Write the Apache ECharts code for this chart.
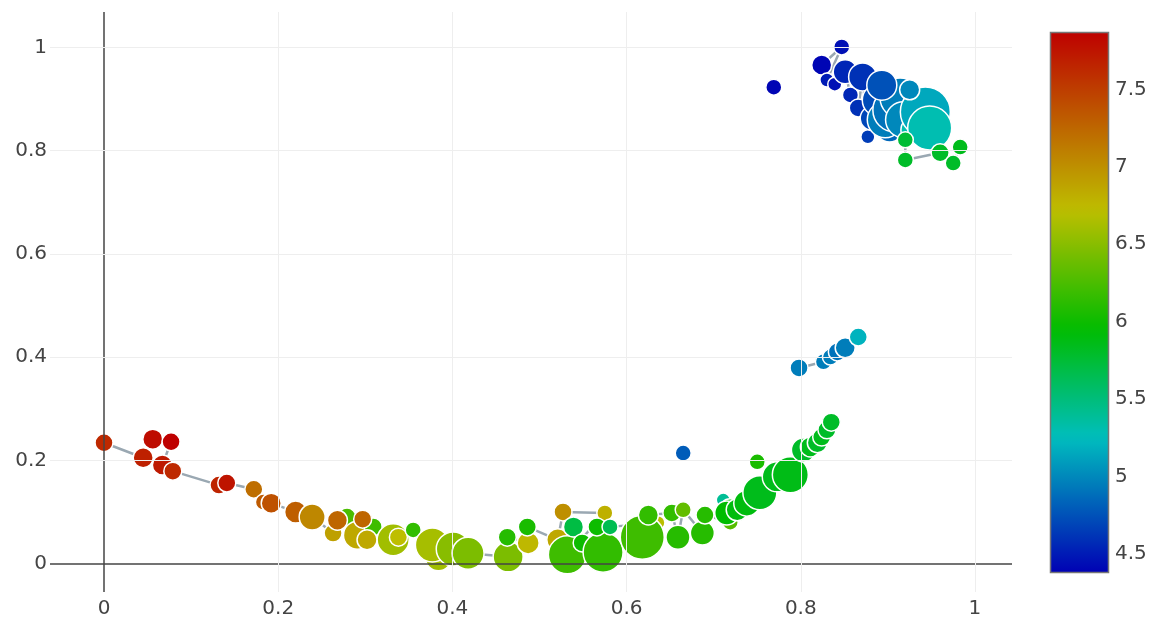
<!DOCTYPE html>
<html>
<head>
<meta charset="utf-8">
<script src="https://cdn.jsdelivr.net/npm/echarts@6/dist/echarts.min.js"></script>
<style>html,body{margin:0;padding:0;background:#fff;}#chart{width:1154px;height:620px;}</style>
</head>
<body>
<div id="chart"></div>
<script>
// ---- data ----
const X = [0.000,0.045,0.056,0.077,0.067,0.079,0.132,0.141,0.172,0.183,0.192,0.220,0.239,0.263,0.279,0.268,0.291,0.309,0.297,0.302,
0.332,0.338,0.355,0.384,0.377,0.401,0.418,0.464,0.463,0.487,0.486,0.521,0.527,0.575,0.532,0.539,0.549,0.573,0.566,0.581,
0.636,0.618,0.625,0.652,0.659,0.665,0.687,0.690,0.719,0.711,0.719,0.715,0.727,0.738,0.753,0.773,0.788,0.803,0.811,0.819,
0.824,0.830,0.835,
0.750,0.665,
0.798,0.826,0.834,0.842,0.851,0.866,
0.769,
0.824,0.847,0.830,0.839,0.851,0.857,0.866,0.871,0.877,0.882,0.889,0.902,0.897,0.908,0.914,0.918,0.931,0.943,0.948,0.893,
0.925,0.920,0.920,0.960,0.975,0.983];
const Y = [0.234,0.205,0.241,0.236,0.191,0.179,0.152,0.156,0.144,0.119,0.117,0.100,0.090,0.059,0.090,0.084,0.055,0.071,0.086,0.046,
0.046,0.051,0.065,0.011,0.036,0.028,0.020,0.013,0.051,0.040,0.071,0.046,0.100,0.098,0.017,0.071,0.040,0.022,0.071,0.071,
0.079,0.051,0.094,0.098,0.051,0.104,0.059,0.094,0.080,0.123,0.104,0.098,0.104,0.117,0.137,0.168,0.172,0.220,0.226,0.234,
0.245,0.259,0.274,
0.197,0.214,
0.379,0.391,0.400,0.410,0.418,0.439,
0.923,
0.966,1.001,0.937,0.929,0.953,0.908,0.883,0.943,0.827,0.863,0.898,0.844,0.860,0.879,0.902,0.860,0.840,0.875,0.844,0.927,
0.918,0.821,0.782,0.796,0.776,0.807];
const V = [7.62,7.68,7.80,7.87,7.72,7.62,7.65,7.75,7.20,7.32,7.38,7.30,7.05,6.90,6.25,7.25,6.85,6.20,7.25,6.85,
6.60,6.72,6.15,6.60,6.62,6.50,6.45,6.45,6.10,6.75,6.05,6.85,7.00,6.80,6.20,5.70,6.00,6.15,6.00,5.65,
6.70,6.20,6.15,6.15,6.10,6.35,6.10,6.10,6.30,5.40,5.95,5.95,5.90,5.90,5.85,5.85,5.87,5.80,5.85,5.80,
5.85,5.80,5.80,
6.05,4.80,
4.95,4.95,4.95,4.90,4.95,5.20,
4.40,
4.40,4.45,4.50,4.45,4.55,4.55,4.60,4.60,4.65,4.70,4.72,4.85,4.95,4.90,4.95,5.00,5.30,5.15,5.30,4.75,
5.00,5.75,5.80,5.80,5.80,5.85];
const S = [18,20,20,18,20,18,18,18,18,16,20,22,26,18,18,20,28,18,18,20,
32,18,16,26,34,34,32,30,18,22,18,22,18,16,38,20,18,40,18,16,
14,44,20,18,24,16,24,18,16,14,22,24,22,26,34,30,36,24,20,20,
18,18,18,
16,16,
18,16,16,18,20,18,
16,
20,16,14,14,24,16,18,28,14,24,32,28,36,44,40,36,28,50,44,30,
20,16,16,18,16,16];
// connected runs of points (start index, end index)
const RUNS = [[0,62],[65,70],[72,97]];
const X_TICKS = [0,0.2,0.4,0.6,0.8,1];
const Y_TICKS = [0,0.2,0.4,0.6,0.8,1];
const CB_TICKS = [4.5,5,5.5,6,6.5,7,7.5];
const CMIN = 4.377, CMAX = 7.87;

// ---- colour scale ----
const STOPS = [[0,[0,0,180]],[0.25,[0,190,190]],[0.45,[0,188,0]],[0.67,[190,190,0]],[1,[190,0,0]]];
function cs(t){
  for(let i=1;i<STOPS.length;i++){
    if(t<=STOPS[i][0]){
      const a=STOPS[i-1],b=STOPS[i],f=(t-a[0])/(b[0]-a[0]);
      const c=a[1].map((v,k)=>Math.round(v+(b[1][k]-v)*f));
      return 'rgb('+c.join(',')+')';
    }
  }
  return 'rgb('+STOPS[STOPS.length-1][1].join(',')+')';
}
const colorList=[]; for(let i=0;i<=100;i++) colorList.push(cs(i/100));
const gradStops=[]; for(let i=0;i<=50;i++){ gradStops.push({offset:i/50, color:cs(1-i/50)}); }

const pts = X.map((x,i)=>[x,Y[i],V[i],S[i]]);
const FONT = 'DejaVu Sans';
const series = [];
RUNS.forEach(r=>{
  series.push({type:'line', xAxisIndex:0, yAxisIndex:0, data: pts.slice(r[0],r[1]+1).map(p=>[p[0],p[1]]),
    symbol:'none', silent:true, z:1, lineStyle:{color:'#9aa8b2', width:2.5}, animation:false});
});
series.push({type:'scatter', xAxisIndex:0, yAxisIndex:0, data: pts, z:3, animation:false,
  symbolSize: d=>d[3],
  itemStyle:{borderColor:'#fff', borderWidth:1.5, opacity:1},
  markLine:{silent:true, symbol:'none', label:{show:false}, animation:false,
    lineStyle:{color:'#444', width:1.5, type:'solid'},
    data:[{xAxis:0},{yAxis:0}]}
});
const scatterIdx = series.length-1;
// grid lines
series.push({type:'line', xAxisIndex:0, yAxisIndex:0, data:[], z:0, silent:true,
  markLine:{silent:true, symbol:'none', label:{show:false}, animation:false,
    lineStyle:{color:'#eeeeee', width:1, type:'solid'},
    data: X_TICKS.filter(v=>v!==0).map(v=>({xAxis:v})).concat(Y_TICKS.filter(v=>v!==0).map(v=>({yAxis:v})))}
});
// colour bar
series.push({type:'custom', xAxisIndex:1, yAxisIndex:1, data:[[0,CMIN,CMAX]], silent:true, animation:false,
  renderItem:(params, api)=>{
    const p0=api.coord([0, api.value(2)]), p1=api.coord([1, api.value(1)]);
    return {type:'rect', shape:{x:p0[0]+0.5, y:p0[1]+0.5, width:p1[0]-p0[0]-1, height:p1[1]-p0[1]-1},
      style:{fill:new echarts.graphic.LinearGradient(0,0,0,1,gradStops), stroke:'#777', lineWidth:1.5}};
  }
});

const chart = echarts.init(document.getElementById('chart'), null, {renderer:'canvas'});
chart.setOption({
  backgroundColor:'#fff',
  animation:false,
  grid:[{left:50, right:142, top:12, bottom:28, containLabel:false},
        {left:1050, top:32, width:59, height:541, containLabel:false}],
  xAxis:[{type:'value', gridIndex:0, min:-0.062, max:1.0425,
          axisLine:{show:false, onZero:false}, axisTick:{show:false, customValues:X_TICKS},
          splitLine:{show:false},
          axisLabel:{customValues:X_TICKS, color:'#444', fontSize:20, fontFamily:FONT, margin:7}},
         {type:'value', gridIndex:1, min:0, max:1, show:false}],
  yAxis:[{type:'value', gridIndex:0, min:-0.0552, max:1.0688,
          axisLine:{show:false, onZero:false}, axisTick:{show:false, customValues:Y_TICKS},
          splitLine:{show:false},
          axisLabel:{customValues:Y_TICKS, color:'#444', fontSize:20, fontFamily:FONT, margin:3}},
         {type:'value', gridIndex:1, min:CMIN, max:CMAX, position:'right',
          axisLine:{show:false}, axisTick:{show:false, customValues:CB_TICKS}, splitLine:{show:false},
          axisLabel:{customValues:CB_TICKS, color:'#444', fontSize:20, fontFamily:FONT, margin:6}}],
  visualMap:{type:'continuous', show:false, seriesIndex:scatterIdx, dimension:2, min:CMIN, max:CMAX,
    inRange:{color:colorList}},
  series: series
});
</script>
</body>
</html>
